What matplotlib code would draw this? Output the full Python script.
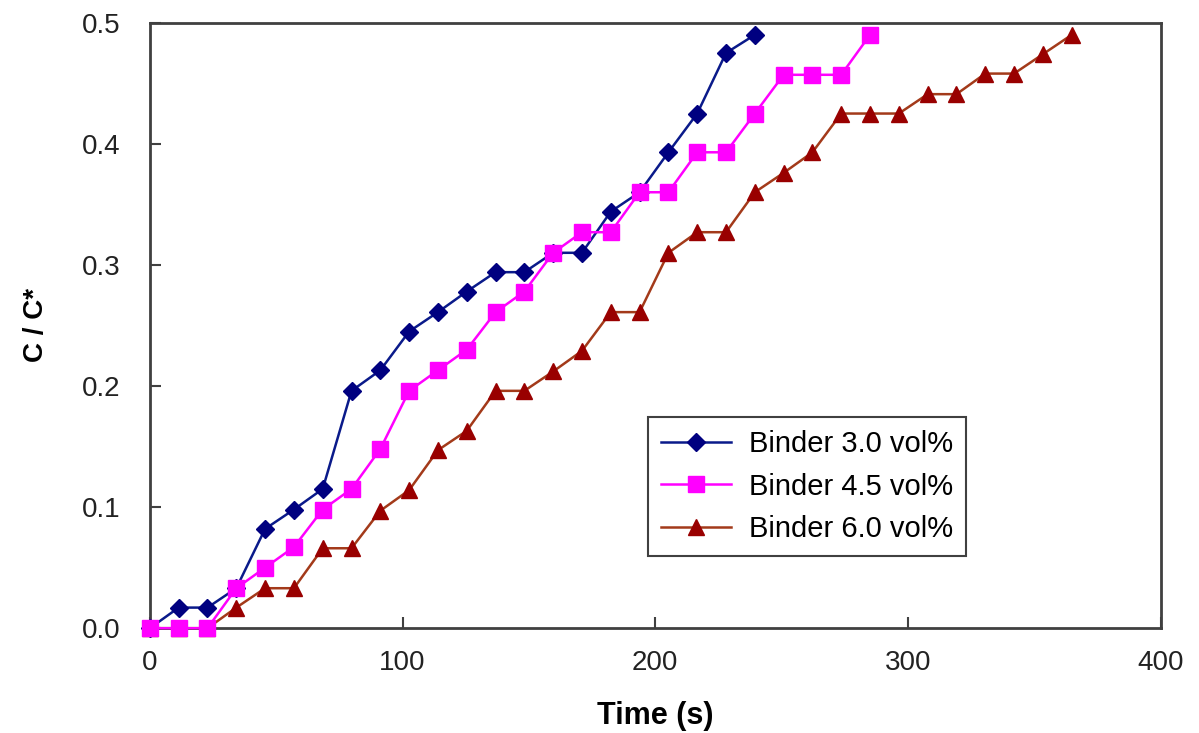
import matplotlib.pyplot as plt

plt.rcParams['font.family'] = ['Liberation Sans', 'DejaVu Sans']

# sample times (s), roughly every 11.4 s
time_s = [0, 11.4, 22.8, 34.2, 45.6, 57.0, 68.4, 79.8, 91.2, 102.6, 114.0,
          125.4, 136.8, 148.2, 159.6, 171.0, 182.4, 193.8, 205.2, 216.6, 228.0,
          239.4, 250.8, 262.2, 273.6, 285.0, 296.4, 307.8, 319.2, 330.6, 342.0,
          353.4, 364.8]

binder_30 = [0.000, 0.017, 0.017, 0.033, 0.082, 0.098, 0.115, 0.196, 0.213,
             0.245, 0.261, 0.278, 0.294, 0.294, 0.310, 0.310, 0.344, 0.360,
             0.393, 0.425, 0.475, 0.490]
binder_45 = [0.000, 0.000, 0.000, 0.033, 0.050, 0.067, 0.098, 0.115, 0.148,
             0.196, 0.213, 0.230, 0.261, 0.278, 0.310, 0.327, 0.327, 0.360,
             0.360, 0.393, 0.393, 0.425, 0.457, 0.457, 0.457, 0.490]
binder_60 = [0.000, 0.000, 0.000, 0.017, 0.033, 0.033, 0.066, 0.066, 0.097,
             0.114, 0.147, 0.163, 0.196, 0.196, 0.212, 0.229, 0.261, 0.261,
             0.310, 0.327, 0.327, 0.360, 0.376, 0.393, 0.425, 0.425, 0.425,
             0.441, 0.441, 0.458, 0.458, 0.474, 0.490]

labels = ['Binder 3.0 vol%', 'Binder 4.5 vol%', 'Binder 6.0 vol%']

fig = plt.figure(figsize=(11.99, 7.33), dpi=100)
ax = fig.add_axes([0.125, 0.143, 0.843, 0.826])

ax.plot(time_s[:len(binder_30)], binder_30, color='#0a1a8a', linewidth=1.8,
        marker='D', markersize=9.5, markerfacecolor='#000080',
        markeredgecolor='#000080', label=labels[0], clip_on=False, zorder=3)
ax.plot(time_s[:len(binder_45)], binder_45, color='#ff00ff', linewidth=1.8,
        marker='s', markersize=12, markerfacecolor='#ff00ff',
        markeredgecolor='#ff00ff', label=labels[1], clip_on=False, zorder=4)
ax.plot(time_s[:len(binder_60)], binder_60, color='#a33a1a', linewidth=1.8,
        marker='^', markersize=12, markerfacecolor='#990000',
        markeredgecolor='#990000', label=labels[2], clip_on=False, zorder=2)

ax.set_xlim(0, 400)
ax.set_ylim(0, 0.5)
ax.set_xticks([0, 100, 200, 300, 400])
ax.set_yticks([0.0, 0.1, 0.2, 0.3, 0.4, 0.5])
ax.set_yticklabels(['0.0', '0.1', '0.2', '0.3', '0.4', '0.5'])

for sp in ax.spines.values():
    sp.set_color('#404040')
    sp.set_linewidth(2)
ax.tick_params(direction='in', length=8, width=1.5, color='#404040',
               labelsize=20, labelcolor='#222222')
ax.tick_params(axis='y', pad=21)
ax.tick_params(axis='x', pad=16)

ax.set_xlabel('Time (s)', fontsize=22, fontweight='bold', labelpad=18)
ax.set_ylabel('C / C*', fontsize=20, fontweight='bold', labelpad=24)

leg = ax.legend(loc='upper left', bbox_to_anchor=(0.493, 0.349), fontsize=21,
                fancybox=False, framealpha=1, edgecolor='#404040',
                handlelength=2.4, handletextpad=0.6, borderpad=0.45,
                labelspacing=0.5, borderaxespad=0)
leg.get_frame().set_linewidth(1.5)

fig.savefig('out.png', dpi=100)
